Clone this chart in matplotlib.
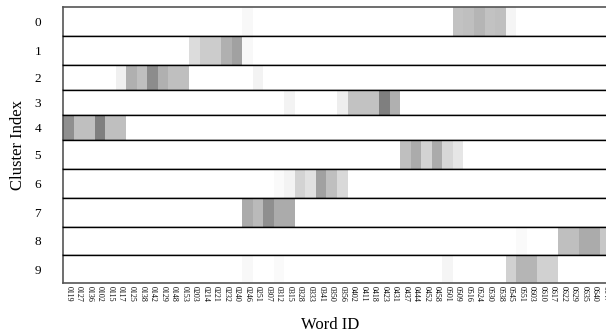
import numpy as np
import matplotlib
matplotlib.use("Agg")
import matplotlib.pyplot as plt

plt.rcParams['font.family'] = ['Liberation Serif', 'DejaVu Serif']

clusters = [str(i) for i in range(10)]

word_ids = ["0119", "0127", "0136", "0102", "0115", "0117", "0125", "0138", "0142", "0129",
            "0148", "0153", "0203", "0214", "0221", "0232", "0240", "0246", "0251", "0307",
            "0312", "0315", "0328", "0333", "0341", "0350", "0356", "0402", "0411", "0418",
            "0423", "0431", "0437", "0444", "0452", "0458", "0501", "0509", "0516", "0524",
            "0530", "0538", "0545", "0551", "0603", "0610", "0617", "0622", "0629", "0635",
            "0640", "0647"]

n_words = len(word_ids)

def row(entries):
    r = np.zeros(n_words)
    for k, v in entries.items():
        r[k] = v
    return r

w0 = row({17: 0.03, 37: 0.24, 38: 0.25, 39: 0.29, 40: 0.24, 41: 0.25, 42: 0.04})
w1 = row({12: 0.14, 13: 0.20, 14: 0.20, 15: 0.31, 16: 0.37, 17: 0.03})
w2 = row({5: 0.06, 6: 0.31, 7: 0.25, 8: 0.45, 9: 0.31, 10: 0.25, 11: 0.25, 18: 0.05})
w3 = row({21: 0.05, 26: 0.07, 27: 0.24, 28: 0.24, 29: 0.24, 30: 0.50, 31: 0.31})
w4 = row({0: 0.44, 1: 0.25, 2: 0.25, 3: 0.50, 4: 0.25, 5: 0.25})
w5 = row({32: 0.25, 33: 0.33, 34: 0.17, 35: 0.33, 36: 0.16, 37: 0.10})
w6 = row({20: 0.02, 21: 0.05, 22: 0.17, 23: 0.12, 24: 0.37, 25: 0.25, 26: 0.15})
w7 = row({17: 0.33, 18: 0.27, 19: 0.44, 20: 0.33, 21: 0.33})
w8 = row({43: 0.02, 47: 0.25, 48: 0.25, 49: 0.33, 50: 0.33, 51: 0.22})
w9 = row({17: 0.03, 20: 0.02, 36: 0.04, 42: 0.18, 43: 0.29, 44: 0.29, 45: 0.18, 46: 0.18})
weights = [w0, w1, w2, w3, w4, w5, w6, w7, w8, w9]

W, H = 606, 336
fig = plt.figure(figsize=(W / 100, H / 100), dpi=100)
row_h = [28.7, 29, 25, 25, 25, 29, 28.7, 29, 28.3, 28]
gs = fig.add_gridspec(10, 1, left=63.3 / W, right=(63.3 + 52 * 10.53) / W,
                      top=1 - 7.3 / H, bottom=1 - 283 / H, hspace=0,
                      height_ratios=row_h)

axes = []
for i, w in enumerate(weights):
    ax = fig.add_subplot(gs[i, 0])
    ax.imshow(w[np.newaxis, :], cmap='gray_r', vmin=0, vmax=1,
              aspect='auto', interpolation='nearest')
    ax.set_yticks([0])
    ax.set_yticklabels([clusters[i]], fontsize=9.5)
    ax.tick_params(axis='y', length=0, pad=16)
    for s in ['left', 'right']:
        ax.spines[s].set_color('#555555')
        ax.spines[s].set_linewidth(1.2)
    for s in ['top', 'bottom']:
        ax.spines[s].set_color('black')
        ax.spines[s].set_linewidth(1.0)
    if i == 0:
        ax.spines['top'].set_color('#555555')
        ax.spines['top'].set_linewidth(1.2)
    if i < 9:
        ax.set_xticks([])
    else:
        ax.spines['bottom'].set_color('#555555')
        ax.spines['bottom'].set_linewidth(1.2)
        ax.set_xticks(np.arange(n_words))
        ax.set_xticklabels(word_ids, rotation=270, fontsize=5.8)
        ax.tick_params(axis='x', length=0, pad=2)
    axes.append(ax)

fig.text(330 / W, 1 - 325 / H, "Word ID", ha='center', va='center', fontsize=12)
fig.text(18 / W, 1 - 145 / H, "Cluster Index", ha='center', va='center',
         rotation=90, fontsize=12)

fig.savefig("out.png", dpi=100)
